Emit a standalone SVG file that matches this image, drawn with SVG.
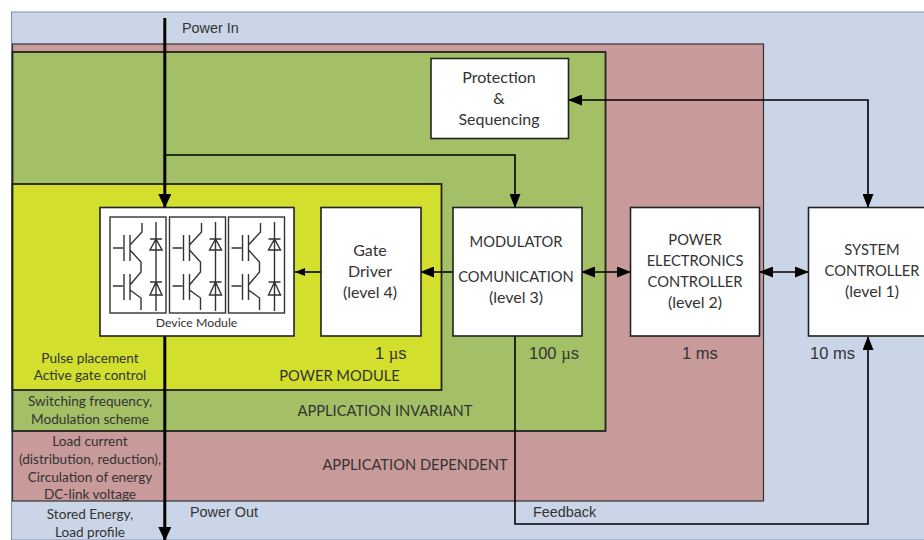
<svg xmlns="http://www.w3.org/2000/svg" width="924" height="540" viewBox="0 0 924 540">
<style>
.t{font-family:Lato,"Open Sans",sans-serif;fill:#333;text-anchor:middle}
.s{font-size:13.600px}
.m{font-size:14.700px}
.l{font-size:16px}
.a{font-family:"Liberation Sans",Arial,sans-serif;fill:#333;font-size:14.400px}
.u{font-size:16.500px}
.box{fill:#fff;stroke:#222;stroke-width:1.6}
.c{fill:none;stroke:#000;stroke-width:1.6}
.i{fill:none;stroke:#333;stroke-width:1.4}
.h{fill:none;stroke:#000;stroke-width:3}
</style>
<defs>
<marker id="e" markerWidth="14" markerHeight="11" refX="13" refY="5.500" orient="auto-start-reverse" markerUnits="userSpaceOnUse"><path d="M0,0L14,5.500L0,11Z" fill="#000"/></marker>
<marker id="es" markerWidth="10" markerHeight="8" refX="10" refY="4" orient="auto-start-reverse" markerUnits="userSpaceOnUse"><path d="M0,0L10,4L0,8Z" fill="#000"/></marker>
<marker id="eb" markerWidth="14" markerHeight="13" refX="13" refY="6.5" orient="auto" markerUnits="userSpaceOnUse"><path d="M0,0L14,6.500L0,13Z" fill="#000"/></marker>
<g id="cell">
<rect x="0" y="0" width="56" height="96" class="i"/>
<path class="i" d="M3,31H13M14,18V44M20,18V44M32,6V15L20,28M20,33L31,45V55L20,68M3,69H13M14,57V83M20,57V83M20,73L31,81V93"/>
<path class="i" d="M46,5V94M40,22H52M46,22L40,33H52ZM40,65H52M46,65L40,78H52Z"/>
</g>
</defs>
<rect width="924" height="540" fill="#fff"/>
<rect x="11.500" y="12" width="913" height="528" fill="#cad6e7" stroke="#7a92b8" stroke-width="1"/>
<g id="application-dependent"><rect x="12.500" y="44" width="751" height="457" fill="#c99a9a" stroke="#333" stroke-width="1.200"/>
<text class="t m" x="415" y="470">APPLICATION DEPENDENT</text></g>
<g id="application-invariant"><rect x="12.500" y="52" width="593" height="379" fill="#a3c066" stroke="#222" stroke-width="1.800"/>
<text class="t m" x="385" y="416">APPLICATION INVARIANT</text></g>
<g id="power-module"><rect x="12.500" y="184" width="429" height="206" fill="#d3df2d" stroke="#222" stroke-width="1.800"/>
<text class="t m" x="339.500" y="381">POWER MODULE</text></g>
<g id="connectors">
<path class="h" d="M164.800,18V207" marker-end="url(#eb)"/>
<path class="h" d="M164.800,336V540" marker-end="url(#eb)"/>
<path class="c" d="M165,155H515V207" marker-end="url(#e)"/>
<path class="c" d="M569,100H868V207" marker-start="url(#e)" marker-end="url(#e)"/>
<path class="c" d="M321,272H295" marker-end="url(#es)"/>
<path class="c" d="M453,272H421" marker-end="url(#e)"/>
<path class="c" d="M582,272H630" marker-start="url(#e)" marker-end="url(#e)"/>
<path class="c" d="M760,272H808" marker-start="url(#e)" marker-end="url(#e)"/>
<path class="c" d="M515,336V524H868V337" marker-end="url(#e)"/>
</g>
<g id="device-module"><rect class="box" x="100" y="207.500" width="194" height="128.500"/>
<use href="#cell" x="110" y="217"/><use href="#cell" x="169.500" y="217"/><use href="#cell" x="228.500" y="217"/>
<text class="t" font-size="12.300" x="196.500" y="327">Device Module</text></g>
<g id="gate-driver"><rect class="box" x="321" y="207.500" width="100" height="128.500"/>
<text class="t l" x="370" y="255.500">Gate</text><text class="t l" x="370" y="276.500">Driver</text><text class="t l" x="370" y="297.500">(level 4)</text></g>
<g id="modulator"><rect class="box" x="453" y="207.500" width="129" height="128.500"/>
<text class="t m" x="516" y="247">MODULATOR</text><text class="t m" x="516" y="282">COMUNICATION</text><text class="t l" x="516" y="303">(level 3)</text></g>
<g id="pe-controller"><rect class="box" x="630.500" y="207.500" width="129" height="128.500"/>
<text class="t m" x="695" y="245">POWER</text><text class="t m" x="695" y="266">ELECTRONICS</text><text class="t m" x="695" y="287">CONTROLLER</text><text class="t l" x="695" y="308">(level 2)</text></g>
<g id="system-controller"><rect class="box" x="808.500" y="207.500" width="120" height="128.500"/>
<text class="t m" x="872" y="255">SYSTEM</text><text class="t m" x="872" y="276">CONTROLLER</text><text class="t l" x="872" y="297">(level 1)</text></g>
<g id="protection"><rect class="box" x="431" y="58.500" width="137.500" height="80"/>
<text class="t l" x="499" y="82.500">Protection</text><text class="t l" x="499" y="103.500">&amp;</text><text class="t l" x="499" y="124.500">Sequencing</text></g>
<g id="labels">
<text class="a" x="182" y="32.500">Power In</text>
<text class="a" x="190" y="517">Power Out</text>
<text class="a" x="533" y="517">Feedback</text>
<text class="a u" x="375" y="359">1 <tspan font-family="Liberation Serif">µ</tspan>s</text>
<text class="a u" x="529" y="358.500">100 <tspan font-family="Liberation Serif">µ</tspan>s</text>
<text class="a u" x="682" y="358.500">1 ms</text>
<text class="a u" x="810" y="358.500">10 ms</text>
<text class="t s" x="90" y="362.500">Pulse placement</text><text class="t s" x="90" y="380">Active gate control</text>
<text class="t s" x="90" y="406">Switching frequency,</text><text class="t s" x="90" y="423.500">Modulation scheme</text>
<text class="t s" x="90" y="446">Load current</text><text class="t s" x="90" y="464">(distribution, reduction),</text><text class="t s" x="90" y="481.500">Circulation of energy</text><text class="t s" x="90" y="499">DC-link voltage</text>
<text class="t s" x="90" y="519">Stored Energy,</text><text class="t s" x="90" y="537">Load profile</text>
</g>
</svg>
